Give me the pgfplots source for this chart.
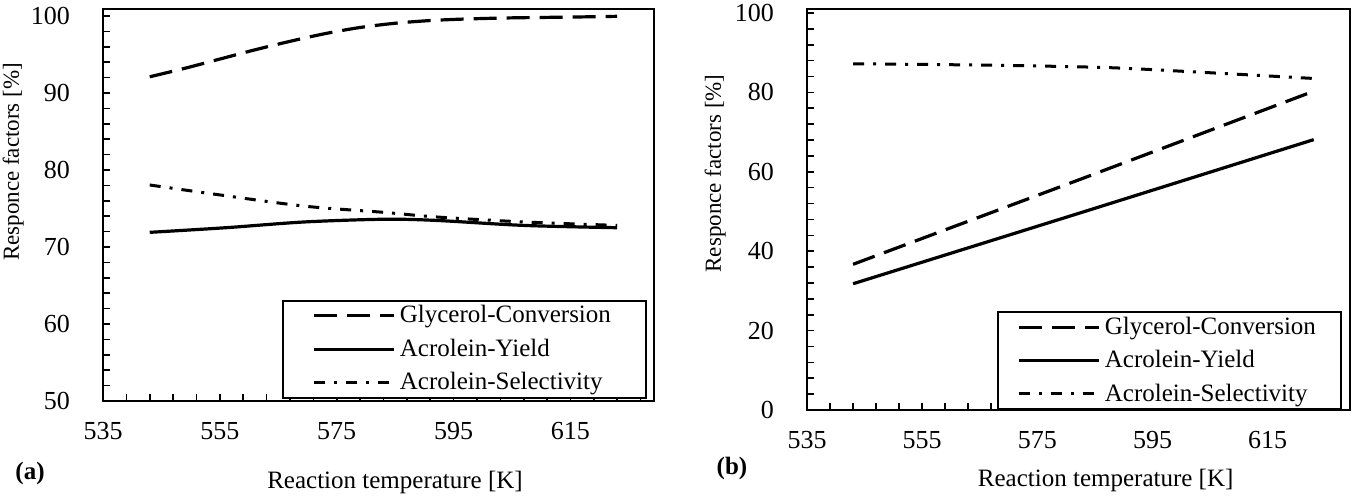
\documentclass[border=0pt]{standalone}
\usepackage{fontspec}
\setmainfont{Liberation Serif}
\usepackage{pgfplots}
\pgfplotsset{compat=1.18}
\newcommand{\fs}{\fontsize{12.5}{14}\selectfont}
\newcommand{\ft}{\fontsize{13}{15}\selectfont}
\newcommand{\fy}{\fontsize{11.5}{13}\selectfont}
\newcommand{\lt}[1]{\makebox[106pt][l]{\rule[-2pt]{0pt}{10.5pt}#1}}
\pgfplotsset{
  panel/.style={
    scale only axis, anchor=south west,
    xmin=535, xmax=629.3,
    xtick={535,555,...,615}, minor xtick={539,543,...,627},
    tick align=inside, xtick pos=bottom, ytick pos=left,
    major tick length=0pt, minor tick length=3.5pt,
    every tick/.style={black, line width=0.8pt},
    axis line style={line width=1.3pt},
    /pgf/number format/assume math mode=true,
    /pgf/number format/1000 sep={},
    tick label style={font=\ft},
    yticklabel style={xshift=-13pt},
    xticklabel style={yshift=-7pt},
    xlabel style={font=\fs},
    ylabel style={font=\fy},
    xlabel={Reaction temperature [K]},
    ylabel={Responce factors [\%]},
    legend cell align=left,
    legend image code/.code={\draw[#1] (0pt,0pt) -- (40pt,0pt);},
    conv/.style={black, line width=1.6pt, dash pattern=on 11.5pt off 5pt},
    yld/.style={black, line width=1.6pt},
    sel/.style={black, line width=1.5pt, dash pattern=on 5.5pt off 4.5pt on 1.5pt off 4.5pt},
  }
}
\begin{document}
\begin{tikzpicture}
\useasboundingbox (0,0) rectangle (679.5pt,250pt);
\begin{axis}[panel,
  at={(51.5pt,49.5pt)}, width=275.5pt, height=196pt,
  ymin=50, ymax=100.9,
  ytick={50,60,...,100}, minor ytick={50,52,...,100},
  xlabel style={at={(axis description cs:0.53,-0.209)}, anchor=center},
  ylabel style={at={(axis description cs:-0.163,0.61)}, anchor=center},
  legend style={at={(axis description cs:0.987,0.006)}, anchor=south east,
    draw=black, line width=1pt, font=\fs, inner xsep=15pt, inner ysep=0.5pt,
    row sep=2.5pt},
]
\addplot[conv, smooth] coordinates {
(543,92.1) (549,93.2) (555,94.4) (561,95.6) (567,96.7) (573,97.7) (579,98.5)
(585,99.05) (591,99.4) (597,99.6) (605,99.75) (615,99.85) (623,99.95)};
\addlegendentry{\lt{Glycerol-Conversion}}
\addplot[yld, smooth] coordinates {
(543,71.9) (556,72.5) (569.5,73.25) (583,73.6) (592,73.45) (607,72.8) (623,72.5)};
\addlegendentry{\lt{Acrolein-Yield}}
\addplot[sel, smooth] coordinates {
(543,78.05) (554.6,76.8) (569.5,75.3) (583,74.5) (592,73.9) (607,73.25) (623,72.8)};
\addlegendentry{\lt{Acrolein-Selectivity}}
\end{axis}
\begin{axis}[panel,
  at={(403.5pt,45pt)}, width=271.5pt, height=200.5pt,
  ymin=0, ymax=101,
  ytick={0,20,...,100}, minor ytick={0,4,...,100},
  xlabel style={at={(axis description cs:0.55,-0.175)}, anchor=center},
  ylabel style={at={(axis description cs:-0.169,0.59)}, anchor=center},
  legend style={at={(axis description cs:0.985,0.0)}, anchor=south east,
    draw=black, line width=1pt, font=\fs, inner xsep=10pt, inner ysep=0.5pt,
    row sep=2.5pt},
]
\addplot[conv] coordinates {(543,36.7) (583,58.4) (623,80.3)};
\addlegendentry{\lt{Glycerol-Conversion}}
\addplot[yld] coordinates {(543,31.8) (583,49.9) (623,68.1)};
\addlegendentry{\lt{Acrolein-Yield}}
\addplot[sel, smooth] coordinates {
(543,87.2) (558,87.0) (573,86.7) (588,86.2) (603,85.1) (623,83.5)};
\addlegendentry{\lt{Acrolein-Selectivity}}
\end{axis}
\node[font=\fs\bfseries] at (15pt,13.5pt) {(a)};
\node[font=\fs\bfseries] at (366pt,16pt) {(b)};
\end{tikzpicture}
\end{document}
